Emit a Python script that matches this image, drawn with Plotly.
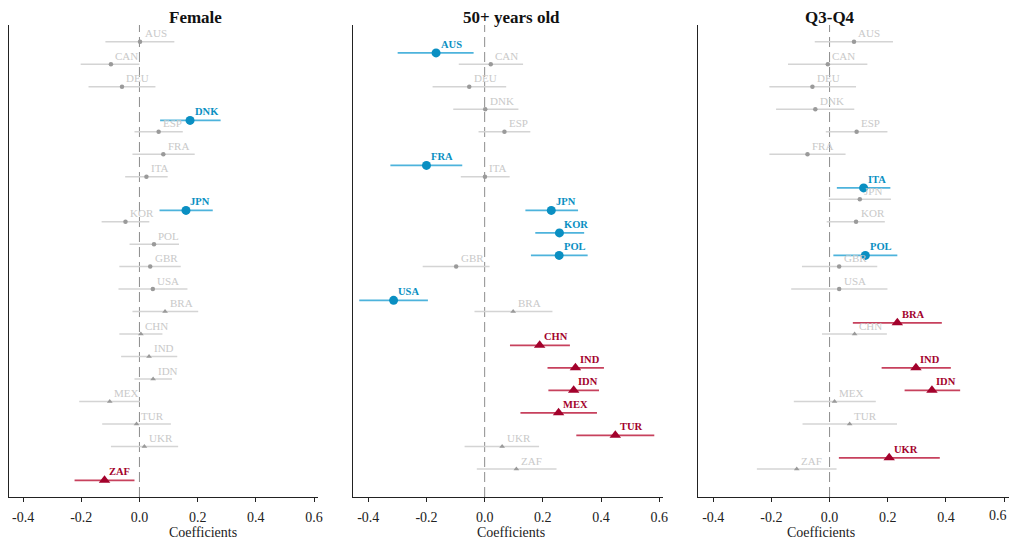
import plotly.graph_objects as go

countries = ["AUS", "CAN", "DEU", "DNK", "ESP", "FRA", "ITA", "JPN", "KOR", "POL",
             "GBR", "USA", "BRA", "CHN", "IND", "IDN", "MEX", "TUR", "UKR", "ZAF"]
emerging = [False]*12 + [True]*8

panel_titles = ["Female", "50+ years old", "Q3-Q4"]

female_est = [0.002, -0.098, -0.060, 0.174, 0.066, 0.082, 0.024, 0.160, -0.048, 0.050,
              0.037, 0.046, 0.088, 0.005, 0.033, 0.047, -0.102, -0.010, 0.017, -0.120]
female_lo = [-0.117, -0.202, -0.175, 0.071, -0.017, -0.024, -0.049, 0.069, -0.130, -0.034,
             -0.069, -0.072, -0.024, -0.069, -0.063, -0.017, -0.207, -0.128, -0.098, -0.223]
female_hi = [0.120, 0.000, 0.055, 0.279, 0.149, 0.190, 0.097, 0.252, 0.034, 0.136,
             0.142, 0.165, 0.202, 0.079, 0.130, 0.112, 0.002, 0.108, 0.133, -0.017]
female_sig = ["DNK", "JPN", "ZAF"]

old_est = [-0.167, 0.021, -0.053, 0.002, 0.068, -0.200, 0.001, 0.229, 0.257, 0.256,
           -0.098, -0.313, 0.098, 0.189, 0.312, 0.306, 0.254, 0.449, 0.060, 0.109]
old_lo = [-0.299, -0.089, -0.179, -0.108, -0.021, -0.324, -0.082, 0.140, 0.174, 0.159,
          -0.213, -0.431, -0.035, 0.087, 0.216, 0.219, 0.123, 0.315, -0.069, -0.027]
old_hi = [-0.038, 0.132, 0.074, 0.116, 0.157, -0.077, 0.086, 0.321, 0.342, 0.354,
          0.017, -0.195, 0.233, 0.293, 0.410, 0.393, 0.386, 0.583, 0.187, 0.247]
old_sig = ["AUS", "FRA", "JPN", "KOR", "POL", "USA", "CHN", "IND", "IDN", "MEX", "TUR"]

q34_est = [0.084, -0.006, -0.059, -0.049, 0.093, -0.076, 0.117, 0.104, 0.091, 0.123,
           0.033, 0.033, 0.233, 0.086, 0.297, 0.352, 0.017, 0.069, 0.205, -0.113]
q34_lo = [-0.051, -0.143, -0.207, -0.184, -0.013, -0.207, 0.025, -0.003, -0.010, 0.013,
          -0.095, -0.132, 0.080, -0.026, 0.179, 0.258, -0.123, -0.093, 0.032, -0.250]
q34_hi = [0.218, 0.130, 0.091, 0.085, 0.199, 0.055, 0.209, 0.211, 0.190, 0.233,
          0.164, 0.199, 0.386, 0.197, 0.417, 0.449, 0.159, 0.232, 0.379, 0.024]
q34_sig = ["ITA", "POL", "BRA", "IND", "IDN", "UKR"]

x_ticks = [-0.4, -0.2, 0.0, 0.2, 0.4, 0.6]

panels = [
    (female_est, female_lo, female_hi, female_sig),
    (old_est, old_lo, old_hi, old_sig),
    (q34_est, q34_lo, q34_hi, q34_sig),
]

FONT = "Liberation Serif"
GRAY_LINE = "#d4d4d4"
GRAY_MARK = "#9a9a9a"
GRAY_TEXT = "#c9c9c9"
BLUE = "#0a8fc2"
BLUE_LINE = "#4db3dc"
RED = "#a3022c"
RED_LINE = "#c7415d"

domains = [[0.0008, 0.3097], [0.3446, 0.654], [0.6889, 0.999]]
xranges = [[-0.449, 0.6148], [-0.4515, 0.614], [-0.4515, 0.617]]

fig = go.Figure()
annotations = []
shapes = []

for p, (est, lo, hi, sig) in enumerate(panels):
    xa = "x" if p == 0 else f"x{p+1}"
    ya = "y" if p == 0 else f"y{p+1}"
    groups = {}
    for i, c in enumerate(countries):
        is_sig = c in sig
        key = (is_sig, emerging[i])
        g = groups.setdefault(key, {"x": [], "y": [], "lo": [], "hi": [], "t": []})
        yv = i + 1 + (0.5 if is_sig else 0.0)
        g["x"].append(est[i])
        g["y"].append(yv)
        g["lo"].append(est[i] - lo[i])
        g["hi"].append(hi[i] - est[i])
        g["t"].append(c)
    for (is_sig, emer), g in sorted(groups.items()):
        if is_sig:
            mcol = RED if emer else BLUE
            lcol = RED_LINE if emer else BLUE_LINE
            size = 10 if emer else 9
            lw = 1.8
            tcol = RED if emer else BLUE
        else:
            mcol = GRAY_MARK
            lcol = GRAY_LINE
            size = 5 if emer else 4.5
            lw = 1.5
            tcol = GRAY_TEXT
        fig.add_trace(go.Scatter(
            x=g["x"], y=g["y"], mode="markers", xaxis=xa, yaxis=ya,
            marker=dict(symbol="triangle-up" if emer else "circle", size=size, color=mcol,
                        line=dict(width=0)),
            error_x=dict(type="data", symmetric=False, array=g["hi"], arrayminus=g["lo"],
                         color=lcol, thickness=lw, width=0),
            showlegend=False, hoverinfo="skip"))
        for xv, yv, t in zip(g["x"], g["y"], g["t"]):
            annotations.append(dict(
                x=xv, y=yv, xref=xa, yref=ya, text=f"<b>{t}</b>" if is_sig else t,
                showarrow=False, xanchor="left", yanchor="middle", xshift=2.5, yshift=8.5,
                font=dict(family=FONT, size=10.5 if is_sig else 11, color=tcol)))
    shapes.append(dict(type="line", xref=xa, yref=f"{ya} domain", x0=0, x1=0, y0=0, y1=1,
                       line=dict(color="#8c8c8c", width=1, dash="10px,5px"), layer="below"))
    annotations.append(dict(
        x=(domains[p][0] + domains[p][1]) / 2 + 0.003, y=1.0, xref="paper", yref="paper",
        yanchor="bottom", yshift=-4, text=f"<b>{panel_titles[p]}</b>", showarrow=False,
        font=dict(family=FONT, size=17, color="#111")))
    annotations.append(dict(
        x=(domains[p][0] + domains[p][1]) / 2 + 0.003, y=0, xref="paper", yref="paper",
        yanchor="top", yshift=-26, text="Coefficients", showarrow=False,
        font=dict(family=FONT, size=14, color="#222")))

# last tick label of the right panel would run past the page edge: draw it as an annotation
annotations.append(dict(
    x=x_ticks[-1], y=0, xref="x3", yref="y3 domain", yanchor="top", xanchor="right",
    xshift=5, yshift=-9, text=f"{x_ticks[-1]:.1f}", showarrow=False,
    font=dict(family=FONT, size=14, color="#222")))

layout = dict(
    width=1009, height=531,
    margin=dict(l=0, r=7, t=17, b=42, pad=0, autoexpand=False),
    paper_bgcolor="white", plot_bgcolor="white",
    showlegend=False,
    annotations=annotations, shapes=shapes,
    font=dict(family=FONT, color="#222"),
)
for p in range(3):
    sx = "xaxis" if p == 0 else f"xaxis{p+1}"
    sy = "yaxis" if p == 0 else f"yaxis{p+1}"
    xa = "x" if p == 0 else f"x{p+1}"
    labels = [f"{v:.1f}" for v in x_ticks]
    if p == 2:
        labels[-1] = ""
    layout[sx] = dict(
        domain=domains[p], range=xranges[p], anchor="y" if p == 0 else f"y{p+1}",
        tickvals=x_ticks, ticktext=labels,
        ticks="outside", ticklen=4, tickwidth=1, tickcolor="#222",
        showline=True, linecolor="#222", linewidth=1, showgrid=False, zeroline=False,
        tickfont=dict(family=FONT, size=14, color="#222"), automargin=False,
        ticklabelstandoff=3, ticklabeloverflow="allow",
    )
    layout[sy] = dict(
        domain=[0, 1], range=[21.24, 0.26], anchor=xa, automargin=False,
        showline=True, linecolor="#222", linewidth=1.2, showgrid=False, zeroline=False,
        showticklabels=False, ticks="",
    )

fig.update_layout(**layout)
fig.write_html("out.html")
